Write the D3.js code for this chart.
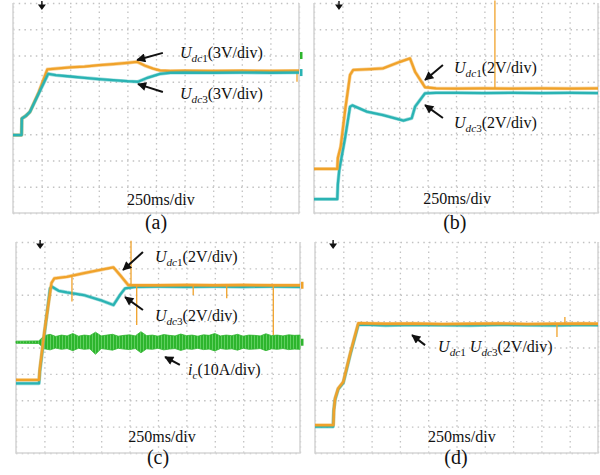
<!DOCTYPE html>
<html><head><meta charset="utf-8">
<script src="https://cdn.jsdelivr.net/npm/d3@7"></script>
<style>body{margin:0;background:#fff}svg{display:block}</style>
</head><body>
<svg id="c" width="600" height="475"></svg>
<script>
// ---------- DATA (time in divisions, value in divisions) ----------
const gridX = [0,1,2,3,4,5,6,7,8,9,10];
const gridY = [0,1,2,3,4,5,6,7,8];
const timeLabel = "250ms/div";
const panelNames = ["(a)","(b)","(c)","(d)"];

// (a)
const a_orange_t = [0,0.30,0.31,0.45,0.59,0.9,1.20,1.5,2.0,2.5,3.0,3.5,4.0,4.34,4.6,4.9,5.14,5.5,6.0,7.0,8.0,9.0,9.9,10];
const a_orange_v = [2.97,2.97,3.6,3.7,3.85,4.6,5.47,5.5,5.55,5.58,5.63,5.67,5.72,5.76,5.62,5.5,5.43,5.41,5.42,5.41,5.42,5.41,5.42,5.42];
const a_cyan_t   = [0,0.30,0.31,0.45,0.59,0.9,1.23,1.5,2.0,2.5,3.0,3.5,4.0,4.37,4.7,5.14,5.5,6.0,7.0,8.0,9.0,10];
const a_cyan_v   = [2.97,2.97,3.6,3.7,3.85,4.55,5.30,5.25,5.2,5.15,5.1,5.06,5.02,5.0,5.15,5.3,5.34,5.35,5.34,5.35,5.34,5.35];
const a_spike_t = [9.93], a_spike_from = [5.42], a_spike_to = [5.0];

// (b)
const b_orange_t = [0,0.82,0.84,0.94,1.1,1.27,1.38,2.0,2.43,3.03,3.38,3.56,3.91,4.3,5,6,7,8,9,10];
const b_orange_v = [1.68,1.68,2.1,2.53,3.95,5.26,5.45,5.48,5.51,5.76,5.89,5.38,4.79,4.75,4.74,4.75,4.74,4.75,4.74,4.75];
const b_cyan_t   = [0,0.82,0.84,0.89,1.1,1.27,1.35,1.86,2.43,3.15,3.44,3.56,3.91,4.3,5,6,7,8,9,10];
const b_cyan_v   = [0.53,0.53,1.1,1.64,2.9,4.05,4.1,3.86,3.73,3.52,3.61,4.05,4.56,4.58,4.58,4.57,4.58,4.57,4.58,4.57];
const b_spike_t = [6.37], b_spike_from = [8.1], b_spike_to = [4.75];

// (c)
const c_orange_t = [0,0.81,0.84,1.0,1.25,1.35,1.79,2.4,2.96,3.43,3.7,3.95,4.3,5,6,7,8,9,10];
const c_orange_v = [2.77,2.77,3.2,4.6,6.45,6.62,6.68,6.82,6.94,7.04,6.7,6.37,6.36,6.36,6.37,6.36,6.37,6.36,6.36];
const c_cyan_t   = [0,0.81,0.84,1.0,1.20,1.27,1.5,1.79,2.38,2.96,3.43,3.66,3.84,4.2,5,6,7,8,9,10];
const c_cyan_v   = [2.64,2.64,3.1,4.5,6.24,6.30,6.15,6.09,5.99,5.80,5.61,5.99,6.24,6.30,6.31,6.30,6.31,6.30,6.31,6.30];
const c_spike_t    = [4.05,1.97,4.25,6.24,7.42,9.06];
const c_spike_from = [8.05,6.68,6.36,6.36,6.36,6.36];
const c_spike_to   = [6.36,5.74,4.85,5.99,5.87,4.47];
const ic_t  = [0,0.8,1.0,1.2,1.4,1.6,1.8,2.0,2.2,2.4,2.6,2.8,3.0,3.2,3.4,3.6,3.8,4.0,4.2,4.4,4.6,4.8,5.0,5.2,5.4,5.6,5.8,6.0,6.2,6.4,6.6,6.8,7.0,7.2,7.4,7.6,7.8,8.0,8.2,8.4,8.6,8.8,9.0,9.2,9.4,9.6,9.8,10.0];
const ic_hi = [4.24,4.25,4.45,4.5,4.42,4.47,4.44,4.53,4.43,4.47,4.45,4.58,4.44,4.47,4.5,4.43,4.46,4.48,4.44,4.6,4.45,4.47,4.43,4.49,4.46,4.44,4.51,4.45,4.47,4.43,4.48,4.46,4.53,4.44,4.47,4.45,4.5,4.43,4.47,4.46,4.44,4.52,4.45,4.47,4.44,4.48,4.46,4.47];
const ic_lo = [4.16,4.15,3.95,3.91,3.98,3.93,3.96,3.88,3.97,3.93,3.95,3.74,3.96,3.93,3.9,3.97,3.94,3.92,3.96,3.8,3.95,3.93,3.97,3.91,3.94,3.96,3.89,3.95,3.93,3.97,3.92,3.94,3.87,3.96,3.93,3.95,3.9,3.97,3.93,3.94,3.96,3.88,3.95,3.93,3.96,3.92,3.94,3.93];

// (d)
const d_cyan_t   = [0,0.64,0.66,0.71,0.82,1.0,1.25,1.53,1.7,2.5,3.5,4.5,5.5,6.5,7.5,8.5,9.5,10];
const d_cyan_v   = [1.0,1.0,1.6,2.03,2.42,2.66,3.75,4.86,4.87,4.84,4.86,4.85,4.84,4.86,4.85,4.84,4.86,4.85];
const d_orange_t = [0,0.65,0.67,0.71,0.82,1.0,1.25,1.53,1.7,2.5,3.5,4.5,5.5,6.5,7.5,8.5,9.5,10];
const d_orange_v = [1.06,1.06,1.65,2.07,2.45,2.7,3.8,4.92,4.92,4.9,4.91,4.89,4.9,4.91,4.89,4.9,4.91,4.9];
const d_spike_t = [8.83,8.55], d_spike_from = [4.9,4.9], d_spike_to = [5.16,4.4];

// ---------- LAYOUT / STYLE ----------
const ORANGE="#f0a22a", CYAN="#2ab3b3", GREEN="#2db52d";
const SERIF="'Liberation Serif','Times New Roman',serif";
const svg=d3.select("#c");
svg.append("rect").attr("width",600).attr("height",475).attr("fill","#fff");
const defs=svg.append("defs");
defs.append("marker").attr("id","ah").attr("viewBox","0 0 10 10").attr("refX",9).attr("refY",5)
  .attr("markerWidth",10).attr("markerHeight",9).attr("markerUnits","userSpaceOnUse").attr("orient","auto")
  .append("path").attr("d","M0,0L10,5L0,10z").attr("fill","#111");
const pat=defs.append("pattern").attr("id","noise").attr("patternUnits","userSpaceOnUse").attr("width",3).attr("height",4);
pat.append("rect").attr("width",3).attr("height",4).attr("fill",GREEN);
pat.append("rect").attr("x",2).attr("width",1).attr("height",4).attr("fill","#5fcf5f");

function panel(x0,x1,y0,y1){
  const p={x0,x1,y0,y1};
  p.x=d3.scaleLinear().domain([0,10]).range([x0,x1]);
  p.y=d3.scaleLinear().domain([0,8]).range([y1,y0]);
  p.g=svg.append("g");
  const g=p.g.append("g");
  g.append("g").attr("transform",`translate(0,${y1})`)
    .call(d3.axisBottom(p.x).tickValues(gridX).tickSize(-(y1-y0)).tickFormat(""))
    .selectAll(".tick line").attr("stroke-dasharray","1.5,3.76");
  g.append("g").attr("transform",`translate(${x0},0)`)
    .call(d3.axisLeft(p.y).tickValues(gridY).tickSize(-(x1-x0)).tickFormat(""))
    .selectAll(".tick line").attr("stroke-dasharray","1.5,4.2");
  g.selectAll(".domain").remove();
  g.selectAll(".tick line").attr("stroke","#c2c2c2").attr("stroke-width",1.3);
  g.append("path").attr("d",`M${x0},${y0}V${y1}H${x1}V${y0}`).attr("fill","none")
    .attr("stroke","#d6d6d6").attr("stroke-width",1.6);
  return p;
}
function trace(p,t,v,color){
  const line=d3.line().x(d=>p.x(d[0])).y(d=>p.y(d[1]));
  const pts=t.map((d,i)=>[d,v[i]]);
  p.g.append("path").datum(pts).attr("d",line)
    .attr("fill","none").attr("stroke",color).attr("stroke-width",3.6).attr("stroke-opacity",0.45)
    .attr("stroke-linejoin","round");
  p.g.append("path").datum(pts).attr("d",line)
    .attr("fill","none").attr("stroke",color).attr("stroke-width",2.3)
    .attr("stroke-linejoin","round");
}
function spikes(p,t,f,to,color){
  p.g.selectAll(null).data(t).enter().append("line")
    .attr("x1",d=>p.x(d)).attr("x2",d=>p.x(d))
    .attr("y1",(d,i)=>p.y(f[i])).attr("y2",(d,i)=>p.y(to[i]))
    .attr("stroke",color).attr("stroke-width",1.3);
}
function trig(p,t){
  const cx=p.x(t), cy=p.y0;
  p.g.append("path").attr("d",`M${cx-4},${cy+1.5}L${cx+4},${cy+1.5}L${cx},${cy+7}Z M${cx-0.7},${cy-2}h1.4v4h-1.4z`).attr("fill","#111");
}
function rich(p,xd,yd,parts,size){
  size=size||16;
  const t=p.g.append("text").attr("x",p.x(xd)).attr("y",p.y(yd))
    .attr("font-family",SERIF).attr("font-size",size).attr("fill","#111");
  let low=false;
  parts.forEach(([s,st])=>{
    const ts=t.append("tspan").text(s);
    if(st.includes("i")) ts.attr("font-style","italic");
    if(st.includes("s")){ ts.attr("font-size",size*0.7); if(!low){ts.attr("dy",4);low=true;} }
    else if(low){ ts.attr("dy",-4); low=false; }
  });
}
function arrow(p,tail,head){
  p.g.append("line").attr("x1",p.x(tail[0])).attr("y1",p.y(tail[1]))
    .attr("x2",p.x(head[0])).attr("y2",p.y(head[1]))
    .attr("stroke","#111").attr("stroke-width",2).attr("marker-end","url(#ah)");
}
function captions(p,tx,ty,name,nx,ny){
  p.g.append("text").attr("x",p.x(tx)).attr("y",p.y(ty)).attr("text-anchor","middle")
    .attr("font-family",SERIF).attr("font-size",16).attr("fill","#111").text(timeLabel);
  p.g.append("text").attr("x",p.x(nx)).attr("y",p.y(ny)).attr("text-anchor","middle")
    .attr("font-family",SERIF).attr("font-size",20).attr("fill","#111").text(name);
}
function marker(p,level,color){
  p.g.append("rect").attr("x",p.x1+1).attr("y",p.y(level)-3.5).attr("width",2.5).attr("height",7).attr("fill",color);
}

// ---------- (a) ----------
const A=panel(13,299,3,213);
trace(A,a_orange_t,a_orange_v,ORANGE);
spikes(A,a_spike_t,a_spike_from,a_spike_to,ORANGE);
trace(A,a_cyan_t,a_cyan_v,CYAN);
trig(A,1.01);
marker(A,6.0,GREEN); marker(A,5.35,CYAN);
arrow(A,[5.24,6.10],[4.34,5.83]);
arrow(A,[5.24,4.61],[4.37,4.91]);
rich(A,5.84,5.92,[["U","i"],["dc","si"],["1","s"],["(3V/div)",""]]);
rich(A,5.84,4.34,[["U","i"],["dc","si"],["3","s"],["(3V/div)",""]]);
captions(A,5.17,0.30,panelNames[0],5.0,-0.61);

// ---------- (b) ----------
const B=panel(314,598,3,213);
trace(B,b_cyan_t,b_cyan_v,CYAN);
spikes(B,b_spike_t,b_spike_from,b_spike_to,ORANGE);
trace(B,b_orange_t,b_orange_v,ORANGE);
trig(B,0.88);
arrow(B,[4.54,5.64],[3.91,5.07]);
arrow(B,[4.54,3.62],[3.91,4.11]);
rich(B,4.93,5.33,[["U","i"],["dc","si"],["1","s"],["(2V/div)",""]]);
rich(B,4.93,3.24,[["U","i"],["dc","si"],["3","s"],["(2V/div)",""]]);
captions(B,5.04,0.34,panelNames[1],4.96,-0.61);

// ---------- (c) ----------
const C=panel(16,300,242,453);
const area=d3.area().x(d=>C.x(d[0])).y0(d=>C.y(d[2])).y1(d=>C.y(d[1]));
C.g.append("path").datum(ic_t.map((d,i)=>[d,ic_hi[i],ic_lo[i]])).attr("d",area)
  .attr("fill","url(#noise)").attr("stroke",GREEN).attr("stroke-width",0.8);
trace(C,c_cyan_t,c_cyan_v,CYAN);
trace(C,c_orange_t,c_orange_v,ORANGE);
spikes(C,c_spike_t,c_spike_from,c_spike_to,ORANGE);
trig(C,0.85);
marker(C,6.36,ORANGE); marker(C,4.2,GREEN);
arrow(C,[4.47,7.62],[3.77,6.94]);
arrow(C,[4.47,5.42],[3.84,5.91]);
arrow(C,[5.77,3.34],[5.25,3.64]);
rich(C,4.89,7.24,[["U","i"],["dc","si"],["1","s"],["(2V/div)",""]]);
rich(C,4.89,5.0,[["U","i"],["dc","si"],["3","s"],["(2V/div)",""]]);
rich(C,6.06,2.96,[["i","i"],["c","si"],["(10A/div)",""]]);
captions(C,5.14,0.42,panelNames[2],5.0,-0.42);

// ---------- (d) ----------
const D=panel(315,598,242,453);
trace(D,d_cyan_t,d_cyan_v,CYAN);
trace(D,d_orange_t,d_orange_v,ORANGE);
spikes(D,d_spike_t,d_spike_from,d_spike_to,ORANGE);
trig(D,0.64);
arrow(D,[3.89,4.09],[3.43,4.47]);
rich(D,4.35,3.83,[["U","i"],["dc","si"],["1","s"],[" ",""],["U","i"],["dc","si"],["3","s"],["(2V/div)",""]]);
captions(D,5.19,0.42,panelNames[3],4.98,-0.42);
</script>
</body></html>
